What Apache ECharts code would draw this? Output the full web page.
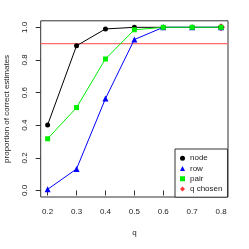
<!DOCTYPE html>
<html><head><meta charset="utf-8">
<script src="https://cdn.jsdelivr.net/npm/echarts@6/dist/echarts.min.js"></script>
<style>html,body{margin:0;padding:0;background:#fff}#c{width:249px;height:249px}</style>
</head><body><div id="c"></div>
<script>
var qValues = [0.2, 0.3, 0.4, 0.5, 0.6, 0.7, 0.8];
var nodeVals = [0.402, 0.887, 0.99, 1.0, 1.0, 1.0, 1.0];
var rowVals = [0.007, 0.132, 0.563, 0.925, 1.0, 1.0, 1.0];
var pairVals = [0.317, 0.508, 0.806, 0.985, 1.0, 1.0, 1.0];
var chosenQ = [0.8];
var chosenVal = [1.0];
var threshold = 0.9;
var xTicks = [0.2, 0.3, 0.4, 0.5, 0.6, 0.7, 0.8];
var yTicks = [0.0, 0.2, 0.4, 0.6, 0.8, 1.0];

var xMin = 0.176, xMax = 0.824;
function pts(xs, ys){ return xs.map(function(x,i){ return [x, ys[i]]; }); }
var font = 'Liberation Sans, Arial, sans-serif';
var chart = echarts.init(document.getElementById('c'), null, {renderer:'canvas'});
chart.setOption({
  animation: false,
  textStyle: {fontFamily: font},
  grid: {left: 40.7, right: 21, top: 20.8, bottom: 52, show: true, borderColor: '#333', borderWidth: 1,
    backgroundColor: 'transparent', containLabel: false, outerBoundsMode: 'none'},
  xAxis: {
    type: 'value', min: xMin, max: xMax,
    name: 'q', nameLocation: 'middle', nameGap: 32,
    nameTextStyle: {fontSize: 8, color: '#222', fontFamily: font},
    axisLine: {show: false},
    splitLine: {show: false},
    axisTick: {show: true, inside: false, length: 5, customValues: xTicks, lineStyle: {color: '#333'}},
    axisLabel: {customValues: xTicks, fontSize: 8, color: '#222', margin: 11, fontFamily: font,
      formatter: function(v){ return v.toFixed(1); }}
  },
  yAxis: {
    type: 'value', min: -0.04, max: 1.04,
    name: 'proportion of correct estimates', nameLocation: 'middle', nameGap: 30, nameMoveOverlap: false,
    nameTextStyle: {fontSize: 8, color: '#222', fontFamily: font},
    axisLine: {show: false},
    splitLine: {show: false},
    axisTick: {show: true, inside: false, length: 5, customValues: yTicks, lineStyle: {color: '#333'}},
    axisLabel: {customValues: yTicks, fontSize: 8, color: '#222', margin: 12, rotate: 90, fontFamily: font,
      verticalAlign: 'bottom', align: 'center',
      formatter: function(v){ return v.toFixed(1); }}
  },
  legend: {
    orient: 'vertical', left: 175, top: 149,
    padding: [4, 5, 3, 5], itemGap: 0, itemWidth: 5, itemHeight: 5,
    borderColor: '#333', borderWidth: 1, backgroundColor: '#fff',
    textStyle: {fontSize: 8, color: '#222', lineHeight: 10.3, fontFamily: font},
    data: [
      {name: 'node', icon: 'circle'},
      {name: 'row', icon: 'triangle'},
      {name: 'pair', icon: 'rect'},
      {name: 'q chosen', icon: 'diamond', itemStyle: {color: '#ff0000'}}
    ]
  },
  series: [
    {name: 'threshold', type: 'line', data: [[xMin, threshold], [xMax, threshold]], symbol: 'none', silent: true,
      color: '#ff6a6a', lineStyle: {color: '#ff6a6a', width: 1.2, opacity: 1}, itemStyle: {color: '#ff6a6a'}, z: 1},
    {name: 'node', type: 'line', data: pts(qValues, nodeVals), symbol: 'circle', symbolSize: 5,
      itemStyle: {color: '#000'}, lineStyle: {color: '#000', width: 1}},
    {name: 'row', type: 'line', data: pts(qValues, rowVals), symbol: 'triangle', symbolSize: 6,
      itemStyle: {color: '#0000ff'}, lineStyle: {color: '#0000ff', width: 1}},
    {name: 'pair', type: 'line', data: pts(qValues, pairVals), symbol: 'rect', symbolSize: 5,
      itemStyle: {color: '#00ee00'}, lineStyle: {color: '#00ee00', width: 1}},
    {name: 'q chosen', type: 'scatter', data: pts(chosenQ, chosenVal), symbol: 'diamond', symbolSize: 8,
      itemStyle: {color: '#ff0000'}}
  ]
});
</script></body></html>
